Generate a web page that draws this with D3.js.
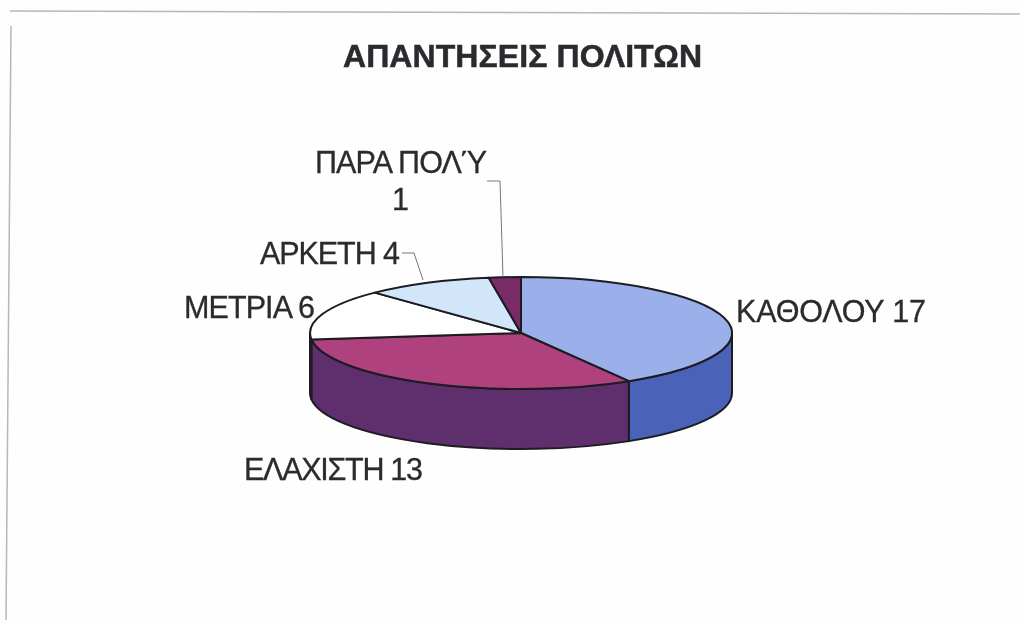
<!DOCTYPE html>
<html>
<head>
<meta charset="utf-8">
<script src="https://cdn.jsdelivr.net/npm/d3@7"></script>
<style>
  html, body { margin: 0; background: #fefefe; }
  svg { display: block; filter: blur(0.5px); }
  text { font-family: "Liberation Sans", Arial, sans-serif; fill: #2b2b2f; }
  .label { font-size: 30.5px; stroke: #2b2b2f; stroke-width: .3px; }
  .title { font-size: 32px; font-weight: bold; stroke: #2b2b2f; stroke-width: .5px; }
</style>
</head>
<body>
<svg width="1020" height="625"></svg>
<script>
const categories = ['ΚΑΘΟΛΟΥ', 'ΕΛΑΧΙΣΤΗ', 'ΜΕΤΡΙΑ', 'ΑΡΚΕΤΗ', 'ΠΑΡΑ ΠΟΛΎ'];
const values = [17, 13, 6, 4, 1];
const topColors = ['#9bb0ea', '#b0417f', '#ffffff', '#d2e6f9', '#7b2a68'];
const sideColors = ['#4a63b9', '#5f2e6c', '#4a3a5c', '#a9bcd0', '#5b2050'];

const svg = d3.select('svg');

// pie top is an ellipse, angles are clockwise from 12 o'clock
const cx = 521, cy = 333, rx = 211, ry = 56, depth = 60;

const px = a => cx + rx * Math.sin(a);
const py = a => cy - ry * Math.cos(a);

const slices = d3.pie().sort(null)(values);

// scan edges, the page was slightly crooked
svg.append('path')
  .attr('d', 'M10,11L1020,14')
  .attr('stroke', '#b5b7bd').attr('stroke-width', 1.5).attr('fill', 'none');
svg.append('path')
  .attr('d', 'M11,26L6,620')
  .attr('stroke', '#b5b7bd').attr('stroke-width', 1.5).attr('fill', 'none');

const pie = svg.append('g');

// side wall, only the part that faces the viewer (90deg to 270deg)
pie.selectAll('path.side').data(slices)
  .enter().filter(d => d.endAngle > Math.PI / 2 && d.startAngle < 3 * Math.PI / 2)
  .append('path')
  .attr('class', 'side')
  .attr('fill', d => sideColors[d.index])
  .attr('stroke', '#1c1c22').attr('stroke-width', 2).attr('stroke-linejoin', 'round')
  .attr('d', d => {
    const a0 = Math.max(d.startAngle, Math.PI / 2);
    const a1 = Math.min(d.endAngle, 3 * Math.PI / 2);
    return `M${px(a0)},${py(a0)}`
      + `A${rx},${ry} 0 0 1 ${px(a1)},${py(a1)}`
      + `V${py(a1) + depth}`
      + `A${rx},${ry} 0 0 0 ${px(a0)},${py(a0) + depth}Z`;
  });

// top face
const arc = d3.arc().innerRadius(0).outerRadius(1);
pie.append('g')
  .attr('transform', `translate(${cx},${cy}) scale(${rx},${ry})`)
  .selectAll('path').data(slices)
  .enter().append('path')
  .attr('d', arc)
  .attr('fill', d => topColors[d.index])
  .attr('stroke', '#1c1c22').attr('stroke-width', 2).attr('stroke-linejoin', 'round')
  .attr('vector-effect', 'non-scaling-stroke');

// leader lines
const leaderLine = d3.line();
svg.append('path')
  .attr('d', leaderLine([[487, 181], [500, 181], [503, 277]]))
  .attr('fill', 'none').attr('stroke', '#777').attr('stroke-width', 1);
svg.append('path')
  .attr('d', leaderLine([[402, 253], [414, 253], [423, 280]]))
  .attr('fill', 'none').attr('stroke', '#777').attr('stroke-width', 1);

// labels, width forced to what the scan shows
const label = (str, x, y, w) => svg.append('text')
  .attr('class', 'label')
  .attr('x', x).attr('y', y)
  .attr('textLength', w)
  .attr('lengthAdjust', 'spacing')
  .text(str);

label(`${categories[0]} ${values[0]}`, 736, 322, 190);
label(`${categories[1]} ${values[1]}`, 244, 480, 179);
label(`${categories[2]} ${values[2]}`, 184, 318, 131);
label(`${categories[3]} ${values[3]}`, 260, 264, 140);
label(categories[4], 315, 173, 172);
label(values[4], 392, 210, 16);

svg.append('text')
  .attr('class', 'title')
  .attr('x', 343).attr('y', 67)
  .attr('textLength', 359)
  .attr('lengthAdjust', 'spacing')
  .text('ΑΠΑΝΤΗΣΕΙΣ ΠΟΛΙΤΩΝ');
</script>
</body>
</html>
